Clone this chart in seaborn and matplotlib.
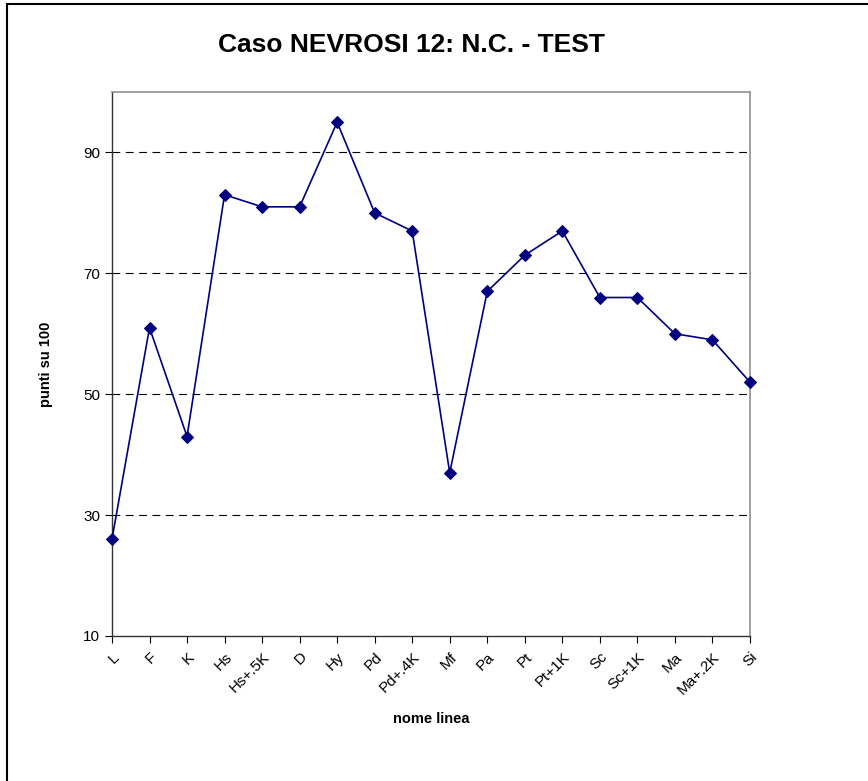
import pandas as pd
import matplotlib
matplotlib.use("Agg")
import matplotlib.pyplot as plt
import seaborn as sns
from matplotlib.lines import Line2D

linee = ["L", "F", "K", "Hs", "Hs+.5K", "D", "Hy", "Pd", "Pd+.4K", "Mf",
         "Pa", "Pt", "Pt+1K", "Sc", "Sc+1K", "Ma", "Ma+.2K", "Si"]
punti = [26, 61, 43, 83, 81, 81, 95, 80, 77, 37, 67, 73, 77, 66, 66, 60, 59, 52]
yticks = [10, 30, 50, 70, 90]

df = pd.DataFrame({"linea": linee, "punti": punti})

sns.set_style("white")
plt.rcParams["font.family"] = ["Liberation Sans", "DejaVu Sans"]
plt.rcParams["text.color"] = "black"
plt.rcParams["axes.labelcolor"] = "black"
plt.rcParams["xtick.color"] = "black"
plt.rcParams["ytick.color"] = "black"

fig = plt.figure(figsize=(8.68, 7.81), dpi=100)
ax = fig.add_axes([0.129, 0.1857, 0.735, 0.6965])

sns.lineplot(x="linea", y="punti", data=df, ax=ax, sort=False,
             color="#000080", linewidth=1.2, marker="D", markersize=6,
             markeredgecolor="#000080", clip_on=False, zorder=5)

ax.set_xlim(0, len(linee) - 1)
ax.set_ylim(10, 100)
ax.set_yticks(yticks)
for v in yticks[1:]:
    ax.axhline(v, color="black", linestyle=(0, (7, 5)), linewidth=0.8, zorder=0)

ax.set_xticks(range(len(linee)))
ax.set_xticklabels(linee, rotation=45, ha="right", rotation_mode="anchor", fontsize=11)
ax.tick_params(axis="y", labelsize=11, length=5, width=0.8, direction="out", left=True)
ax.tick_params(axis="x", length=5, width=0.8, direction="out", bottom=True, pad=5)

for s in ["left", "bottom"]:
    ax.spines[s].set_color("#333333")
    ax.spines[s].set_linewidth(1.0)
for s in ["top", "right"]:
    ax.spines[s].set_color("#909090")
    ax.spines[s].set_linewidth(1.2)

ax.set_xlabel("nome linea", fontsize=10.5, fontweight="bold", labelpad=11)
ax.set_ylabel("punti su 100", fontsize=10.5, fontweight="bold", labelpad=22)

fig.suptitle("Caso NEVROSI 12: N.C. - TEST", x=0.4735, y=0.942, va="center",
             fontsize=19, fontweight="bold")

# bordo esterno del grafico (solo alto e sinistra visibili)
fig.add_artist(Line2D([0.008, 1.0], [0.995, 0.995], transform=fig.transFigure, color="black", linewidth=1.5))
fig.add_artist(Line2D([0.008, 0.008], [0.0, 0.995], transform=fig.transFigure, color="black", linewidth=1.5))

fig.savefig("out.png", dpi=100)
